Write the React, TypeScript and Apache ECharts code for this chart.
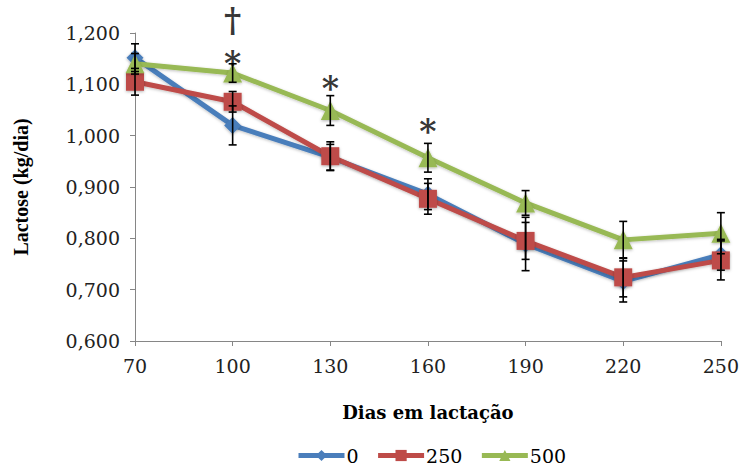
import React, { useEffect, useRef } from "react";
import * as echarts from "echarts";

const days = [70, 100, 130, 160, 190, 220, 250];
const series0 = [1.152, 1.020, 0.958, 0.886, 0.789, 0.716, 0.768];
const series250 = [1.105, 1.066, 0.960, 0.877, 0.795, 0.724, 0.757];
const series500 = [1.140, 1.122, 1.049, 0.957, 0.869, 0.797, 0.810];
const err0 = [0.027, 0.038, 0.025, 0.030, 0.052, 0.040, 0.030];
const err250 = [0.026, 0.020, 0.028, 0.030, 0.036, 0.038, 0.038];
const err500 = [0.020, 0.018, 0.029, 0.028, 0.024, 0.036, 0.040];
const seriesNames = ["0", "250", "500"];
const yTicks = [0.6, 0.7, 0.8, 0.9, 1.0, 1.1, 1.2];
const annotations: [number, number, string][] = [
  [100, 1.224, "†"],
  [100, 1.141, "*"],
  [130, 1.092, "*"],
  [160, 1.009, "*"],
];

const colors = ["#4A7EBB", "#BE4B48", "#98B954"];
const SERIF = "Liberation Serif";
const WIDE = "DejaVu Serif";

export default function App() {
  const ref = useRef<HTMLDivElement>(null);
  useEffect(() => {
    document.body.style.margin = "0";
    if (!ref.current) return;
    const chart = echarts.init(ref.current, undefined, { renderer: "svg" });
    const allVals = [series0, series250, series500];
    const allErr = [err0, err250, err500];

    const lineSeries = allVals.map((vals, i) => ({
      name: seriesNames[i],
      type: "line",
      data: days.map((d, j) => [d, vals[j]]),
      symbol: ["diamond", "rect", "triangle"][i],
      symbolSize: [17, 18, 19][i],
      lineStyle: { width: 5, color: colors[i], shadowColor: "rgba(0,0,0,0.25)", shadowBlur: 3, shadowOffsetY: 1 },
      itemStyle: { color: colors[i], shadowColor: "rgba(0,0,0,0.3)", shadowBlur: 3, shadowOffsetY: 1 },
      z: 2 + i,
    }));

    const errData: number[][] = [];
    allVals.forEach((vals, i) => {
      vals.forEach((v, j) => {
        errData.push([days[j], v - allErr[i][j], v + allErr[i][j]]);
      });
    });

    const errorSeries = {
      type: "custom",
      name: "err",
      z: 10,
      clip: false,
      data: errData,
      renderItem: (params: any, api: any) => {
        const x = api.value(0);
        const lo = api.coord([x, api.value(1)]);
        const hi = api.coord([x, api.value(2)]);
        const hw = 4;
        const style = { stroke: "#000", lineWidth: 1.6 };
        return {
          type: "group",
          children: [
            { type: "line", shape: { x1: lo[0], y1: lo[1], x2: hi[0], y2: hi[1] }, style },
            { type: "line", shape: { x1: lo[0] - hw, y1: lo[1], x2: lo[0] + hw, y2: lo[1] }, style },
            { type: "line", shape: { x1: hi[0] - hw, y1: hi[1], x2: hi[0] + hw, y2: hi[1] }, style },
          ],
        };
      },
    };

    const annotSeries = {
      type: "scatter",
      name: "annot",
      clip: false,
      z: 11,
      symbolSize: 1,
      itemStyle: { color: "rgba(0,0,0,0)" },
      data: annotations.map((a) => ({ value: [a[0], a[1]], name: a[2] })),
      label: {
        show: true,
        position: "inside",
        formatter: (p: any) => p.name,
        color: "#000",
        fontFamily: WIDE,
        fontWeight: "bold",
        fontSize: 33,
        lineHeight: 33,
      },
      silent: true,
    };

    chart.setOption({
      animation: false,
      backgroundColor: "#fff",
      textStyle: { fontFamily: SERIF },
      grid: { left: 135, right: 20, top: 33, bottom: 127, containLabel: false },
      legend: {
        data: seriesNames.map((n, i) => ({ name: n, lineStyle: { width: 5, color: colors[i] } })),
        top: 441,
        left: 291,
        itemWidth: 46,
        itemHeight: 14,
        itemGap: 17,
        textStyle: { fontFamily: WIDE, fontSize: 19, color: "#000", padding: [0, 0, 0, -3] },
      },
      xAxis: {
        type: "value",
        min: 70,
        max: 250,
        interval: 30,
        name: "Dias em lactação",
        nameLocation: "middle",
        nameGap: 62,
        nameTextStyle: { fontFamily: WIDE, fontSize: 18, fontWeight: "bold", color: "#000" },
        axisLine: { lineStyle: { color: "#868686", width: 1 } },
        axisTick: { show: true, length: 5, inside: false, lineStyle: { color: "#868686" } },
        axisLabel: { fontFamily: WIDE, fontSize: 19, color: "#222", margin: 15 },
        splitLine: { show: false },
      },
      yAxis: {
        type: "value",
        min: yTicks[0],
        max: yTicks[yTicks.length - 1],
        interval: 0.1,
        name: "Lactose (kg/dia)",
        nameLocation: "middle",
        nameGap: 104,
        nameTextStyle: { fontFamily: SERIF, fontSize: 20, fontWeight: "bold", color: "#000" },
        axisLine: { show: true, lineStyle: { color: "#868686", width: 1 } },
        axisTick: { show: true, length: 5, lineStyle: { color: "#868686" } },
        axisLabel: {
          fontFamily: WIDE,
          fontSize: 19,
          color: "#222",
          margin: 15,
          formatter: (v: number) => v.toFixed(3).replace(".", ","),
        },
        splitLine: { show: false },
      },
      series: [...lineSeries, errorSeries, annotSeries],
    });
    return () => chart.dispose();
  }, []);
  return <div ref={ref} style={{ width: 742, height: 468 }} />;
}
